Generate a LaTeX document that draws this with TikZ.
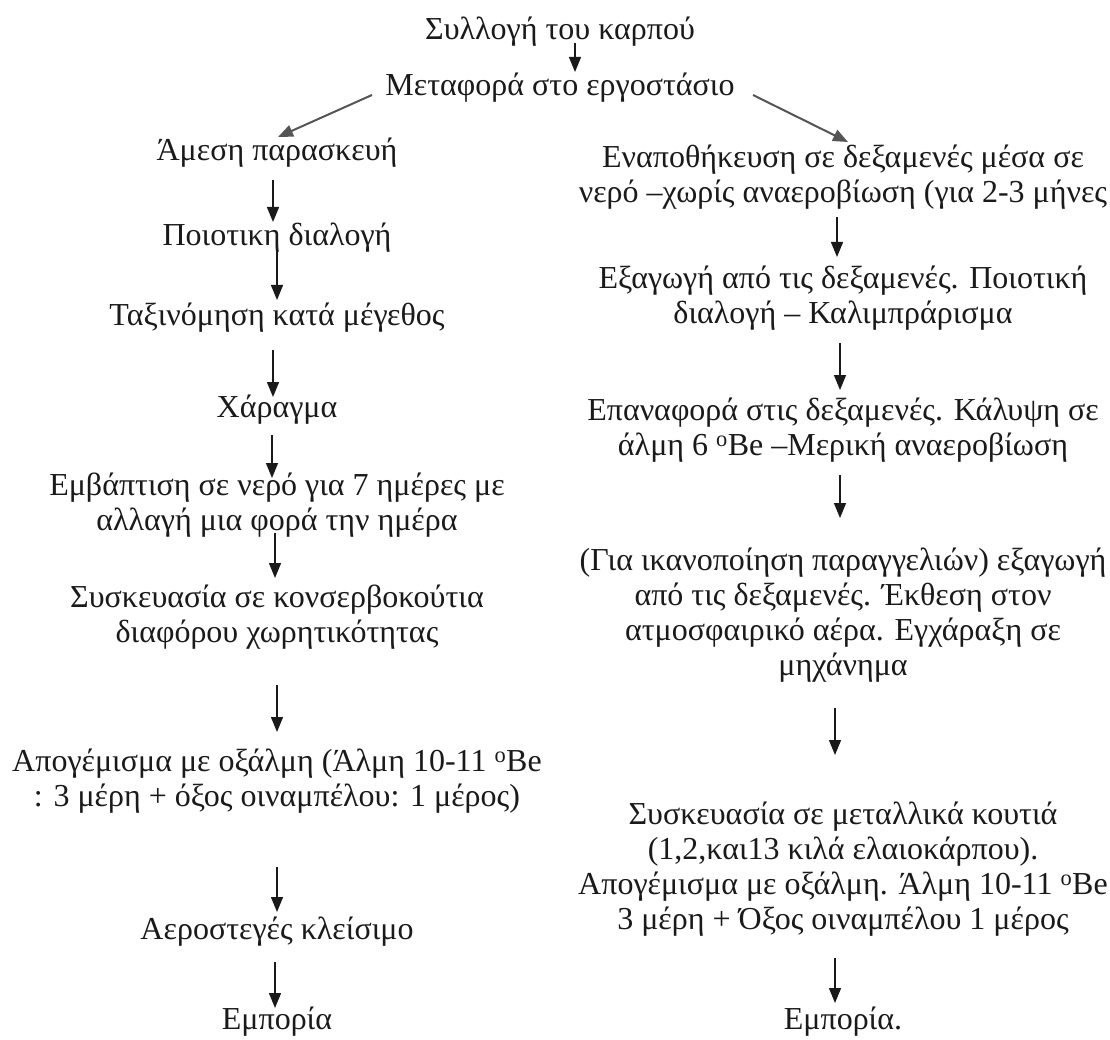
\documentclass[tikz,border=0pt]{standalone}
\usepackage{fontspec}
\setmainfont{Liberation Serif}
\usetikzlibrary{arrows.meta}
\definecolor{ink}{HTML}{1A1A1A}
\definecolor{diag}{HTML}{555555}
\tikzset{
  lbl/.style={inner sep=0pt, align=center, text=ink, font=\fontsize{32}{35}\selectfont},
  arr/.style={draw=ink, line width=1.4pt, -{Triangle[length=15pt,width=12pt]}},
  darr/.style={draw=diag, line width=2pt, -{Triangle[length=15pt,width=12pt]}}
}
\newcommand{\degsup}{\textsuperscript{o}}
\begin{document}
\begin{tikzpicture}[x=1pt,y=1pt]
\useasboundingbox (0,0) rectangle (1110,-1040);
\fill[white] (0,0) rectangle (1110,-1040);
% top
\node[lbl] (coll) at (560,-32) {Συλλογή του καρπού};
\node[lbl] (trans) at (560,-88) {Μεταφορά στο εργοστάσιο};
% left column
\node[lbl] (amesi) at (277,-153) {Άμεση παρασκευή};
\node[lbl] (poiot) at (277,-238) {Ποιοτικη διαλογή};
\node[lbl] (taxin) at (277,-318) {Ταξινόμηση κατά μέγεθος};
\node[lbl] (charag) at (277,-410) {Χάραγμα};
\node[lbl] (emvap) at (277,-505) {Εμβάπτιση σε νερό για 7 ημέρες με\\αλλαγή μια φορά την ημέρα};
\node[lbl] (syskL) at (277,-617.5) {Συσκευασία σε κονσερβοκούτια\\διαφόρου χωρητικότητας};
\node[lbl] (apogL) at (277,-781.5) {Απογέμισμα με οξάλμη (Άλμη 10-11 \degsup Be\\: 3 μέρη + όξος οιναμπέλου: 1 μέρος)};
\node[lbl] (aerost) at (277,-932) {Αεροστεγές κλείσιμο};
\node[lbl] (empL) at (277,-1022) {Εμπορία};
% right column
\node[lbl] (enap) at (843,-177.5) {Εναποθήκευση σε δεξαμενές μέσα σε\\νερό –χωρίς αναεροβίωση (για 2-3 μήνες};
\node[lbl] (exag) at (843,-298.5) {Εξαγωγή από τις δεξαμενές. Ποιοτική\\διαλογή – Καλιμπράρισμα};
\node[lbl] (epan) at (843,-430.5) {Επαναφορά στις δεξαμενές. Κάλυψη σε\\άλμη 6 \degsup Be –Μερική αναεροβίωση};
\node[lbl] (paragg) at (843,-615) {(Για ικανοποίηση παραγγελιών) εξαγωγή\\από τις δεξαμενές. Έκθεση στον\\ατμοσφαιρικό αέρα. Εγχάραξη σε\\μηχάνημα};
\node[lbl] (syskR) at (843,-869) {Συσκευασία σε μεταλλικά κουτιά\\(1,2,και13 κιλά ελαιοκάρπου).\\Απογέμισμα με οξάλμη. Άλμη 10-11 \degsup Be\\3 μέρη + Όξος οιναμπέλου 1 μέρος};
\node[lbl] (empR) at (843,-1022) {Εμπορία.};
% top arrows
\draw[arr] ([xshift=15pt,yshift=-11pt]coll.center) -- ([xshift=15pt,yshift=16pt]trans.center);
\draw[darr] ([xshift=-188pt,yshift=-7pt]trans.center) -- ([xshift=1pt,yshift=16pt]amesi.center);
\draw[darr] ([xshift=193pt,yshift=-7pt]trans.center) -- ([xshift=5pt,yshift=35.5pt]enap.center);
% left arrows
\draw[arr] ([xshift=-4pt,yshift=-27pt]amesi.center) -- ([xshift=-4pt,yshift=16pt]poiot.center);
\draw[arr] ([yshift=-12pt]poiot.center) -- ([yshift=18pt]taxin.center);
\draw[arr] ([xshift=-4pt,yshift=-32pt]taxin.center) -- ([xshift=-4pt,yshift=13pt]charag.center);
\draw[arr] ([xshift=-5pt,yshift=-25pt]charag.center) -- ([xshift=-5pt,yshift=27pt]emvap.center);
\draw[arr] ([xshift=-2pt,yshift=-28pt]emvap.center) -- ([xshift=-2pt,yshift=39.5pt]syskL.center);
\draw[arr] ([yshift=-67.5pt]syskL.center) -- ([yshift=49.5pt]apogL.center);
\draw[arr] ([yshift=-85.5pt]apogL.center) -- ([yshift=20pt]aerost.center);
\draw[arr] ([xshift=-2pt,yshift=-30pt]aerost.center) -- ([xshift=-2pt,yshift=14pt]empL.center);
% right arrows
\draw[arr] ([xshift=-6pt,yshift=-39.5pt]enap.center) -- ([xshift=-6pt,yshift=41.5pt]exag.center);
\draw[arr] ([xshift=-3pt,yshift=-44.5pt]exag.center) -- ([xshift=-3pt,yshift=40.5pt]epan.center);
\draw[arr] ([xshift=-3pt,yshift=-44.5pt]epan.center) -- ([xshift=-3pt,yshift=97pt]paragg.center);
\draw[arr] ([xshift=-8pt,yshift=-93pt]paragg.center) -- ([xshift=-8pt,yshift=114pt]syskR.center);
\draw[arr] ([xshift=-8pt,yshift=-89pt]syskR.center) -- ([xshift=-8pt,yshift=19pt]empR.center);
\end{tikzpicture}
\end{document}
